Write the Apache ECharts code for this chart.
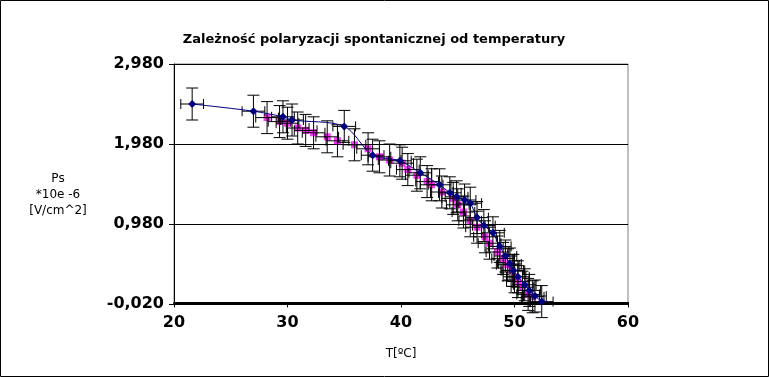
<!DOCTYPE html>
<html>
<head>
<meta charset="utf-8">
<script src="https://cdn.jsdelivr.net/npm/echarts@6/dist/echarts.min.js"></script>
<style>html,body{margin:0;padding:0;background:#fff}#c{width:769px;height:377px}</style>
</head>
<body>
<div id="c"></div>
<script>
// Series 1 (navy diamonds, connected)
const navyT = [21.6, 27.0, 29.6, 30.4, 35.0, 37.5, 39.9, 41.7, 43.4, 44.3, 44.9, 45.6, 46.1, 46.7, 47.3, 48.1, 48.7, 49.2, 49.6, 49.9, 50.3, 50.9, 51.3, 51.8, 52.4];
const navyP = [2.48, 2.39, 2.32, 2.28, 2.20, 1.84, 1.77, 1.62, 1.47, 1.37, 1.32, 1.28, 1.24, 1.06, 0.96, 0.87, 0.70, 0.58, 0.48, 0.40, 0.32, 0.22, 0.15, 0.08, 0.01];
// Series 2 (magenta squares)
const magT = [28.2, 29.3, 30.0, 30.9, 31.6, 32.3, 33.5, 34.4, 35.9, 37.1, 38.1, 39.0, 40.1, 40.6, 41.4, 42.3, 42.7, 43.6, 44.6, 45.0, 45.5, 46.1, 46.7, 47.4, 47.8, 48.5, 49.0, 49.4, 49.8, 50.0, 50.3, 50.7, 51.2, 51.6];
const magP = [2.31, 2.26, 2.24, 2.18, 2.15, 2.12, 2.07, 2.02, 1.97, 1.92, 1.82, 1.78, 1.74, 1.66, 1.59, 1.51, 1.47, 1.38, 1.30, 1.22, 1.13, 1.02, 0.94, 0.82, 0.74, 0.63, 0.55, 0.47, 0.40, 0.32, 0.26, 0.19, 0.10, 0.07];
// error magnitudes
const errT = 1.0;
const errP = 0.2;
// axes
const xTicks = [20, 30, 40, 50, 60];
const yTicks = [-0.02, 0.98, 1.98, 2.98];

const navy = navyT.map((t, i) => [t, navyP[i]]);
const mag = magT.map((t, i) => [t, magP[i]]);
const errData = navy.concat(mag).map(p => [p[0], p[1], errT, errP]);

const chart = echarts.init(document.getElementById('c'), null, {renderer: 'canvas'});
chart.setOption({
  animation: false,
  backgroundColor: '#fff',
  title: {
    text: 'Zależność polaryzacji spontanicznej od temperatury',
    left: 369, top: 28, textAlign: 'center',
    textStyle: {fontFamily: 'DejaVu Sans', fontSize: 13, fontWeight: 'bold', color: '#000'}
  },
  grid: {left: 174, right: 141, top: 64, bottom: 73, show: true, borderColor: '#808080', borderWidth: 1},
  xAxis: {
    type: 'value', min: xTicks[0], max: xTicks[xTicks.length - 1], interval: 10,
    axisLine: {show: true, lineStyle: {color: '#000', width: 2}},
    axisTick: {show: true, length: 5, lineStyle: {color: '#000'}},
    splitLine: {show: false},
    axisLabel: {fontFamily: 'DejaVu Sans', fontWeight: 'bold', fontSize: 16, color: '#000', margin: 11},
    name: 'T[ºC]', nameLocation: 'middle', nameGap: 44,
    nameTextStyle: {fontFamily: 'DejaVu Sans', fontSize: 12, color: '#000'}
  },
  yAxis: {
    type: 'value', min: yTicks[0], max: yTicks[yTicks.length - 1], interval: 1,
    axisLine: {show: true, onZero: false, lineStyle: {color: '#000', width: 1}},
    axisTick: {show: true, length: 5, lineStyle: {color: '#000'}},
    splitLine: {show: true, lineStyle: {color: '#000', width: 1}},
    axisLabel: {
      fontFamily: 'DejaVu Sans', fontWeight: 'bold', fontSize: 16, color: '#000', margin: 10,
      formatter: v => v.toFixed(3).replace('.', ',')
    }
  },
  graphic: [
    {type: 'rect', shape: {x: 0.5, y: 0.5, width: 768, height: 376}, style: {fill: 'none', stroke: '#000', lineWidth: 1}, z: 100},
    {type: 'text', x: 58, y: 171, style: {text: 'Ps\n*10e -6\n[V/cm^2]', font: '12px "DejaVu Sans"', fill: '#000', align: 'center', verticalAlign: 'top', lineHeight: 16}, z: 100}
  ],
  series: [
    {
      type: 'scatter', data: mag, symbol: 'rect', symbolSize: 7,
      itemStyle: {color: '#FF00FF'}, z: 2
    },
    {
      type: 'custom', data: errData, z: 3,
      renderItem: function (params, api) {
        const x = api.value(0), y = api.value(1), ex = api.value(2), ey = api.value(3);
        const c = api.coord([x, y]);
        const top = api.coord([x, y + ey]);
        const bot = api.coord([x, y - ey]);
        const lft = api.coord([x - ex, y]);
        const rgt = api.coord([x + ex, y]);
        const cw = 6, ch = 5;
        const st = {stroke: '#000', lineWidth: 1};
        const L = (x1, y1, x2, y2) => ({type: 'line', shape: {x1, y1, x2, y2}, style: st});
        return {
          type: 'group',
          children: [
            L(c[0], top[1], c[0], bot[1]),
            L(c[0] - cw, top[1], c[0] + cw, top[1]),
            L(c[0] - cw, bot[1], c[0] + cw, bot[1]),
            L(lft[0], c[1], rgt[0], c[1]),
            L(lft[0], c[1] - ch, lft[0], c[1] + ch),
            L(rgt[0], c[1] - ch, rgt[0], c[1] + ch)
          ]
        };
      }
    },
    {
      type: 'line', data: navy, symbol: 'diamond', symbolSize: 8, showSymbol: true,
      smooth: 0.3,
      lineStyle: {color: '#000080', width: 1},
      itemStyle: {color: '#000080'}, z: 4
    }
  ]
});
</script>
</body>
</html>
